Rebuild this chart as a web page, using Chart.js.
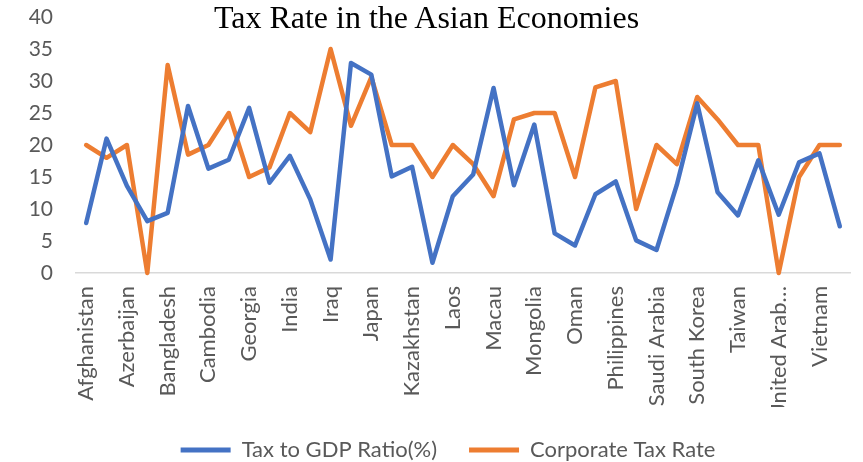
<!DOCTYPE html>
<html>
<head>
<meta charset="utf-8">
<script src="https://cdn.jsdelivr.net/npm/chart.js@4.4.1/dist/chart.umd.min.js"></script>
<style>
    html, body { margin: 0; padding: 0; background: #fff; }
    #wrap { position: relative; width: 863px; height: 462px; }
    #chart { display: block; }
    #title {
        position: absolute; left: -5px; width: 863px; top: -1px;
        text-align: center; font-family: 'Liberation Serif', serif;
        font-size: 32px; color: #000; pointer-events: none;
    }
</style>
</head>
<body>
<div id="wrap">
    <canvas id="chart" width="863" height="462"></canvas>
    <div id="title">Tax Rate in the Asian Economies</div>
</div>
<script>
const countries = ['Afghanistan', 'Armenia', 'Azerbaijan', 'Bahrain', 'Bangladesh', 'Bhutan', 'Cambodia', 'China',
    'Georgia', 'Hong Kong', 'India', 'Indonesia', 'Iraq', 'Israel', 'Japan', 'Jordan', 'Kazakhstan', 'Kyrgyzstan',
    'Laos', 'Lebanon', 'Macau', 'Malaysia', 'Mongolia', 'Nepal', 'Oman', 'Pakistan', 'Philippines', 'Qatar',
    'Saudi Arabia', 'Singapore', 'South Korea', 'Sri Lanka', 'Taiwan', 'Thailand', 'United Arab Emirates',
    'Uzbekistan', 'Vietnam', 'Yemen'];

const taxToGdp = [7.8, 21.0, 13.6, 8.1, 9.4, 26.1, 16.3, 17.7, 25.8, 14.1, 18.3, 11.5, 2.1, 32.8, 31.0, 15.1,
    16.6, 1.6, 12.0, 15.4, 28.9, 13.7, 23.2, 6.2, 4.3, 12.3, 14.3, 5.1, 3.6, 13.8, 26.5, 12.6, 9.0, 17.6, 9.1,
    17.3, 18.7, 7.3];

const corporateTax = [20, 18, 20, 0, 32.5, 18.5, 20, 25, 15, 16.5, 25, 22, 35, 23, 30.6, 20, 20, 15, 20, 17,
    12, 24, 25, 25, 15, 29, 30, 10, 20, 17, 27.5, 24, 20, 20, 0, 15, 20, 20];

const yTicks = [0, 5, 10, 15, 20, 25, 30, 35, 40];

const tickColor = '#595959';
const labelFont = { family: 'Lato', size: 22 };

// only every second category gets a label, long names are cut short
function categoryLabel(val, i) {
    if (i % 2 !== 0) return '';
    let name = countries[i];
    if (name.length > 14) name = name.slice(0, 11) + '\u2026';
    return name;
}

// legend sits a bit right of centre in the original
const legendShift = {
    id: 'legendShift',
    afterLayout(chart) {
        chart.legend.left += 23;
        chart.legend.right += 23;
    }
};

const config = {
    type: 'line',
    data: {
        labels: countries,
        datasets: [{
            label: 'Tax to GDP Ratio(%)',
            data: taxToGdp,
            borderColor: '#4472C4',
            backgroundColor: '#4472C4',
            borderWidth: 4.5,
            pointRadius: 0,
            tension: 0,
            clip: false,
            borderJoinStyle: 'round',
            borderCapStyle: 'round'
        }, {
            label: 'Corporate Tax Rate',
            data: corporateTax,
            borderColor: '#ED7D31',
            backgroundColor: '#ED7D31',
            borderWidth: 4.5,
            pointRadius: 0,
            tension: 0,
            clip: false,
            borderJoinStyle: 'round',
            borderCapStyle: 'round'
        }]
    },
    plugins: [legendShift],
    options: {
        responsive: false,
        animation: false,
        layout: { autoPadding: false, padding: { top: 17, right: 13, bottom: 0, left: 0 } },
        plugins: {
            title: { display: false },
            tooltip: { enabled: false },
            legend: {
                position: 'bottom',
                maxHeight: 55,
                labels: {
                    color: tickColor,
                    font: labelFont,
                    boxWidth: 50,
                    boxHeight: 5,
                    padding: 32,
                    generateLabels: function (chart) {
                        return chart.data.datasets.map((ds, i) => ({
                            text: ds.label,
                            fillStyle: ds.borderColor,
                            strokeStyle: ds.borderColor,
                            lineWidth: 0,
                            fontColor: tickColor,
                            datasetIndex: i
                        }));
                    }
                }
            }
        },
        scales: {
            x: {
                offset: true,
                grid: { display: false, drawTicks: false },
                border: { display: true, color: '#d9d9d9', width: 1.5 },
                ticks: {
                    autoSkip: false,
                    minRotation: 90,
                    maxRotation: 90,
                    padding: 13,
                    color: tickColor,
                    font: labelFont,
                    callback: categoryLabel
                },
                afterFit: function (scale) {
                    scale.height = 134;
                    scale.paddingLeft = 0;
                    scale.paddingRight = 0;
                }
            },
            y: {
                min: 0,
                max: 40,
                grid: { display: false, drawTicks: false },
                border: { display: false },
                afterBuildTicks: function (scale) {
                    scale.ticks = yTicks.map(v => ({ value: v }));
                },
                ticks: {
                    padding: 23,
                    color: tickColor,
                    font: { family: 'Lato', size: 21 }
                },
                afterFit: function (scale) {
                    scale.width = 76;
                    scale.paddingTop = 0;
                    scale.paddingBottom = 0;
                }
            }
        }
    }
};

new Chart(document.getElementById('chart'), config);
</script>
</body>
</html>
